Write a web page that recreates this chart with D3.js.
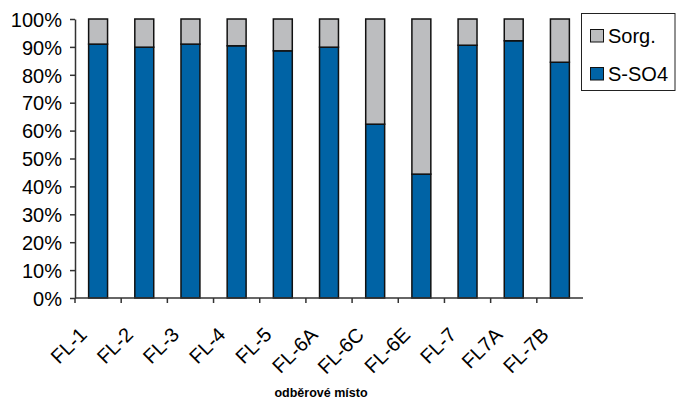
<!DOCTYPE html>
<html>
<head>
<meta charset="utf-8">
<script src="https://cdn.jsdelivr.net/npm/d3@7"></script>
<style>
  html, body { margin: 0; padding: 0; background: #fff; }
  svg { display: block; font-family: "Liberation Sans", Arial, sans-serif; }
</style>
</head>
<body>
<svg id="chart" width="676" height="401"></svg>
<script>
// Sampling sites and the share of each sulfur form (fraction of total)
const sites = ["FL-1", "FL-2", "FL-3", "FL-4", "FL-5", "FL-6A", "FL-6C", "FL-6E", "FL-7", "FL7A", "FL-7B"];
const sSO4 = [0.910, 0.899, 0.910, 0.904, 0.886, 0.899, 0.623, 0.444, 0.906, 0.922, 0.845];
const sOrg = sSO4.map(v => 1 - v);
const yTicks = [0, 0.1, 0.2, 0.3, 0.4, 0.5, 0.6, 0.7, 0.8, 0.9, 1.0];
const seriesNames = ["Sorg.", "S-SO4"];
const colors = { "S-SO4": "#0063a5", "Sorg.": "#bcbdbf" };

const svg = d3.select("#chart");
const plot = { left: 75, right: 583, top: 19, bottom: 298 };
const fontSize = 20;

const x = d3.scaleBand().domain(sites).range([plot.left, plot.right]).paddingInner(0.59).paddingOuter(0.295);
const xEdges = d3.scaleBand().domain(sites).range([plot.left, plot.right]);
const y = d3.scaleLinear().domain([0, 1]).range([plot.bottom, plot.top]);

// Stacked bars: S-SO4 at the bottom, Sorg. on top
const rows = sites.map((s, i) => ({ site: s, "S-SO4": sSO4[i], "Sorg.": sOrg[i] }));
const stack = d3.stack().keys(["S-SO4", "Sorg."])(rows);

svg.append("g").selectAll("g")
  .data(stack).join("g")
  .attr("fill", d => colors[d.key])
  .selectAll("rect")
  .data(d => d).join("rect")
  .attr("x", d => x(d.data.site))
  .attr("width", x.bandwidth())
  .attr("y", d => y(d[1]))
  .attr("height", d => y(d[0]) - y(d[1]))
  .attr("stroke", "#111")
  .attr("stroke-width", 1.5);

// Y axis
const yAxis = d3.axisLeft(y).tickValues(yTicks).tickFormat(d3.format(".0%")).tickSize(5).tickSizeOuter(0);
const gy = svg.append("g").attr("transform", `translate(${plot.left},0)`).call(yAxis);
gy.select(".domain").attr("stroke", "#333").attr("stroke-width", 1.5);
gy.selectAll(".tick line").attr("stroke", "#333").attr("stroke-width", 1.5);
gy.selectAll(".tick text").attr("font-size", fontSize).attr("fill", "#000").attr("x", -13).attr("dy", "0.36em");

// X axis with ticks between categories
const gx = svg.append("g").attr("transform", `translate(0,${plot.bottom})`);
gx.append("line").attr("x1", plot.left).attr("x2", plot.right).attr("stroke", "#333").attr("stroke-width", 1.5);
gx.selectAll("line.tk")
  .data(sites).join("line").attr("class", "tk")
  .attr("x1", d => xEdges(d)).attr("x2", d => xEdges(d))
  .attr("y1", 0).attr("y2", 5)
  .attr("stroke", "#333").attr("stroke-width", 1.5);
gx.selectAll("text")
  .data(sites).join("text")
  .attr("transform", d => `translate(${x(d) + x.bandwidth() / 2 - 10},${38}) rotate(-45)`)
  .attr("text-anchor", "end")
  .attr("font-size", fontSize)
  .attr("fill", "#000")
  .text(d => d);

// Axis title
svg.append("text")
  .attr("x", 321).attr("y", 397)
  .attr("text-anchor", "middle")
  .attr("font-size", 12.5)
  .attr("font-weight", "bold")
  .text("odběrové místo");

// Legend
const lg = svg.append("g");
lg.append("rect").attr("x", 581.5).attr("y", 13.5).attr("width", 93.5).attr("height", 77)
  .attr("fill", "#fff").attr("stroke", "#222").attr("stroke-width", 1);
const items = lg.selectAll("g.item").data(seriesNames).join("g").attr("class", "item")
  .attr("transform", (d, i) => `translate(590.5,${29.5 + i * 38})`);
items.append("rect").attr("width", 13).attr("height", 12.5)
  .attr("fill", d => colors[d]).attr("stroke", "#111").attr("stroke-width", 1);
items.append("text").attr("x", 17.5).attr("y", 13).attr("font-size", fontSize).attr("fill", "#000").text(d => d);
</script>
</body>
</html>
